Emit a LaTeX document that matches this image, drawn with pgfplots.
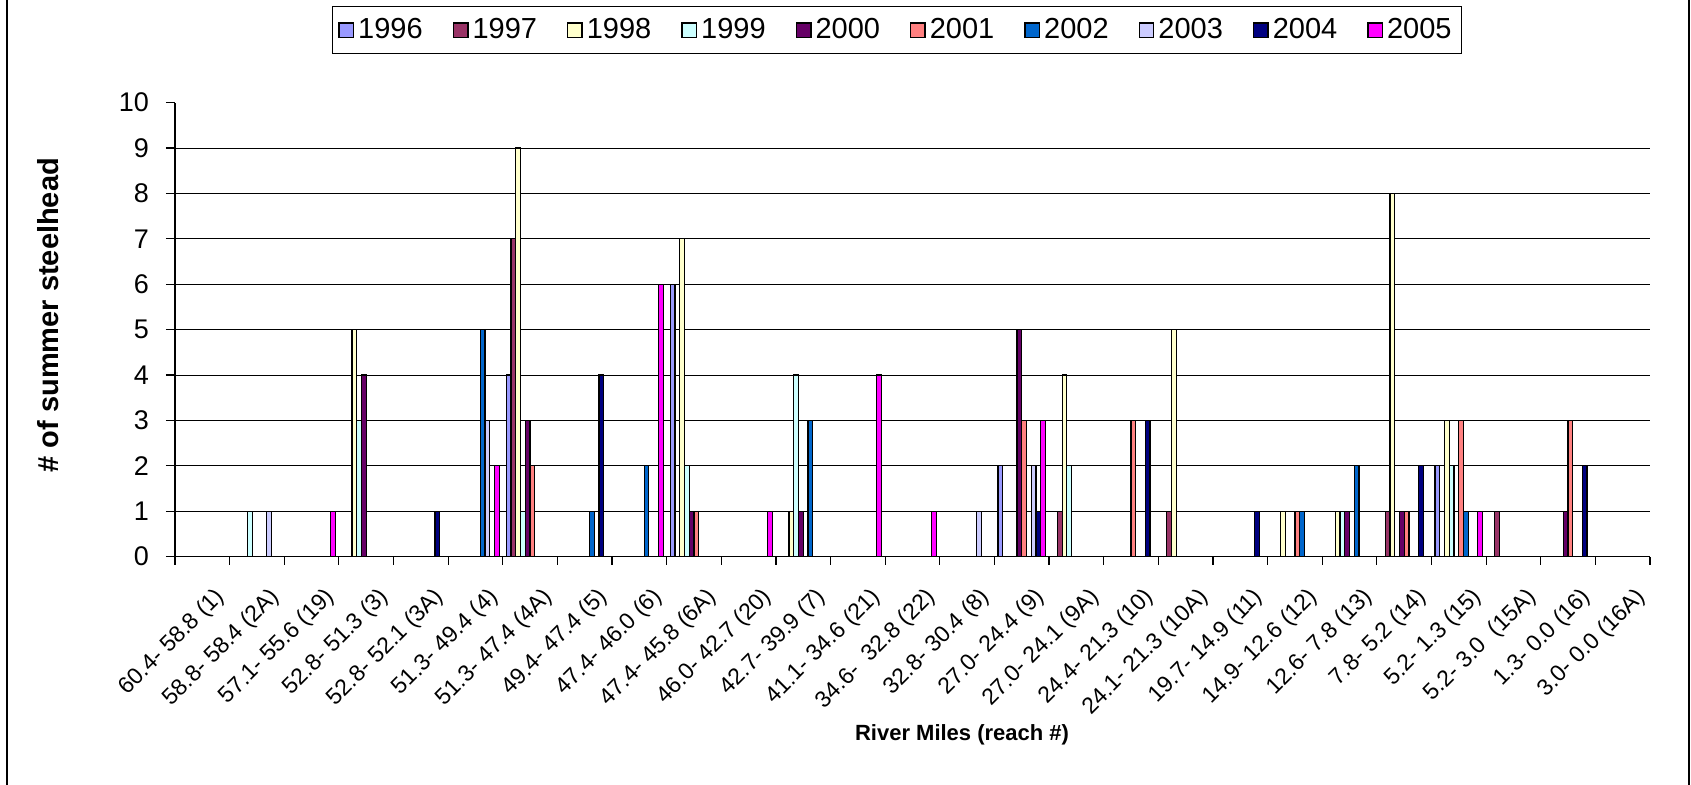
\documentclass[border=0pt]{standalone}
\usepackage{fontspec}
\setmainfont{Liberation Sans}
\usepackage{pgfplots}
\pgfplotsset{compat=1.18}
\definecolor{c1996}{HTML}{9999FF}
\definecolor{c1997}{HTML}{993366}
\definecolor{c1998}{HTML}{FFFFCC}
\definecolor{c1999}{HTML}{CCFFFF}
\definecolor{c2000}{HTML}{660066}
\definecolor{c2001}{HTML}{FF8080}
\definecolor{c2002}{HTML}{0066CC}
\definecolor{c2003}{HTML}{CCCCFF}
\definecolor{c2004}{HTML}{000080}
\definecolor{c2005}{HTML}{FF00FF}
\pgfplotsset{myleg/.style={legend image code/.code={\draw[##1,draw=black,line width=0.7pt] (0pt,-3.6pt) rectangle (7.2pt,3.6pt);}}}
\begin{document}
\begin{tikzpicture}
\useasboundingbox (0,0) rectangle (845.5pt,392.5pt);
\draw[line width=1pt] (3.5pt,0) -- (3.5pt,392.5pt);
\draw[line width=1pt] (844.5pt,0) -- (844.5pt,392.5pt);
\begin{axis}[
  at={(87.5pt,114.15pt)}, anchor=south west,
  scale only axis, width=737.5pt, height=227pt,
  xmin=0, xmax=27, ymin=0, ymax=10,
  axis x line*=bottom, axis y line*=left,
  axis line style={line width=0.6pt, -},
  ybar=0pt, bar width=2.375pt,
  xtick={0.5,1.5,...,26.5},
  xticklabels={60.4- 58.8 (1),58.8- 58.4 (2A),57.1- 55.6 (19),52.8- 51.3 (3),52.8- 52.1 (3A),51.3- 49.4 (4),51.3- 47.4 (4A),49.4- 47.4 (5),47.4- 46.0 (6),47.4- 45.8 (6A),46.0- 42.7 (20),42.7- 39.9 (7),41.1- 34.6 (21),34.6-\ \ 32.8 (22),32.8- 30.4 (8),27.0- 24.4 (9),27.0- 24.1 (9A),24.4- 21.3 (10),24.1- 21.3 (10A),19.7- 14.9 (11),14.9- 12.6 (12),12.6- 7.8 (13),7.8- 5.2 (14),5.2- 1.3 (15),5.2- 3.0\ \ (15A),1.3- 0.0 (16),3.0- 0.0 (16A)},
  major x tick style={draw=none},
  minor xtick={0,1,...,27},
  minor tick length=4pt,
  major tick length=4.5pt,
  tick align=outside,
  tick style={line width=0.6pt, black},
  ytick={0,1,...,10},
  extra y ticks={1,2,...,9},
  extra y tick labels={},
  extra y tick style={grid=major, major tick length=0pt},
  major grid style={line width=0.5pt, black},
  /pgf/number format/assume math mode=true,
  yticklabel style={font=\fontsize{13.5pt}{16pt}\selectfont, xshift=-5pt},
  xticklabel style={font=\fontsize{11.5pt}{14pt}\selectfont, rotate=45, anchor=north east, inner sep=0pt, xshift=-3pt, yshift=-11pt},
  xlabel={\textbf{River Miles (reach \#)}},
  xlabel style={font=\fontsize{11pt}{13pt}\selectfont, at={(axis description cs:0.5336,-0.3927)}, anchor=center},
  ylabel={\textbf{\# of summer steelhead}},
  ylabel style={font=\fontsize{14.5pt}{17pt}\selectfont, at={(axis description cs:-0.0861,0.532)}, anchor=center},
  legend columns=10,
  legend style={at={(axis description cs:0.4895,1.160)}, anchor=center, draw=black, line width=0.6pt, font=\fontsize{14.5pt}{17pt}\selectfont, inner xsep=3pt, inner ysep=4pt, /tikz/every even column/.append style={column sep=13pt}},
  legend cell align=left,
]
\addplot[fill=c1996, draw=black, line width=0.6pt, myleg] coordinates {(6.5,4) (9.5,6) (15.5,2) (23.5,2)};
\addplot[fill=c1997, draw=black, line width=0.6pt, myleg] coordinates {(6.5,7) (16.5,1) (18.5,1) (22.5,1) (24.5,1)};
\addplot[fill=c1998, draw=black, line width=0.6pt, myleg] coordinates {(3.5,5) (6.5,9) (9.5,7) (11.5,1) (16.5,4) (18.5,5) (20.5,1) (21.5,1) (22.5,8) (23.5,3)};
\addplot[fill=c1999, draw=black, line width=0.6pt, myleg] coordinates {(1.5,1) (3.5,3) (6.5,1) (9.5,2) (11.5,4) (16.5,2) (21.5,1) (23.5,2)};
\addplot[fill=c2000, draw=black, line width=0.6pt, myleg] coordinates {(3.5,4) (6.5,3) (9.5,1) (11.5,1) (15.5,5) (21.5,1) (22.5,1) (25.5,1)};
\addplot[fill=c2001, draw=black, line width=0.6pt, myleg] coordinates {(6.5,2) (9.5,1) (15.5,3) (17.5,3) (20.5,1) (22.5,1) (23.5,3) (25.5,3)};
\addplot[fill=c2002, draw=black, line width=0.6pt, myleg] coordinates {(5.5,5) (7.5,1) (8.5,2) (11.5,3) (20.5,1) (21.5,2) (23.5,1)};
\addplot[fill=c2003, draw=black, line width=0.6pt, myleg] coordinates {(1.5,1) (5.5,3) (14.5,1) (15.5,2)};
\addplot[fill=c2004, draw=black, line width=0.6pt, myleg] coordinates {(4.5,1) (7.5,4) (15.5,1) (17.5,3) (19.5,1) (22.5,2) (25.5,2)};
\addplot[fill=c2005, draw=black, line width=0.6pt, myleg] coordinates {(2.5,1) (5.5,2) (8.5,6) (10.5,1) (12.5,4) (13.5,1) (15.5,3) (23.5,1)};
\legend{1996,1997,1998,1999,2000,2001,2002,2003,2004,2005}
\end{axis}
\end{tikzpicture}
\end{document}
